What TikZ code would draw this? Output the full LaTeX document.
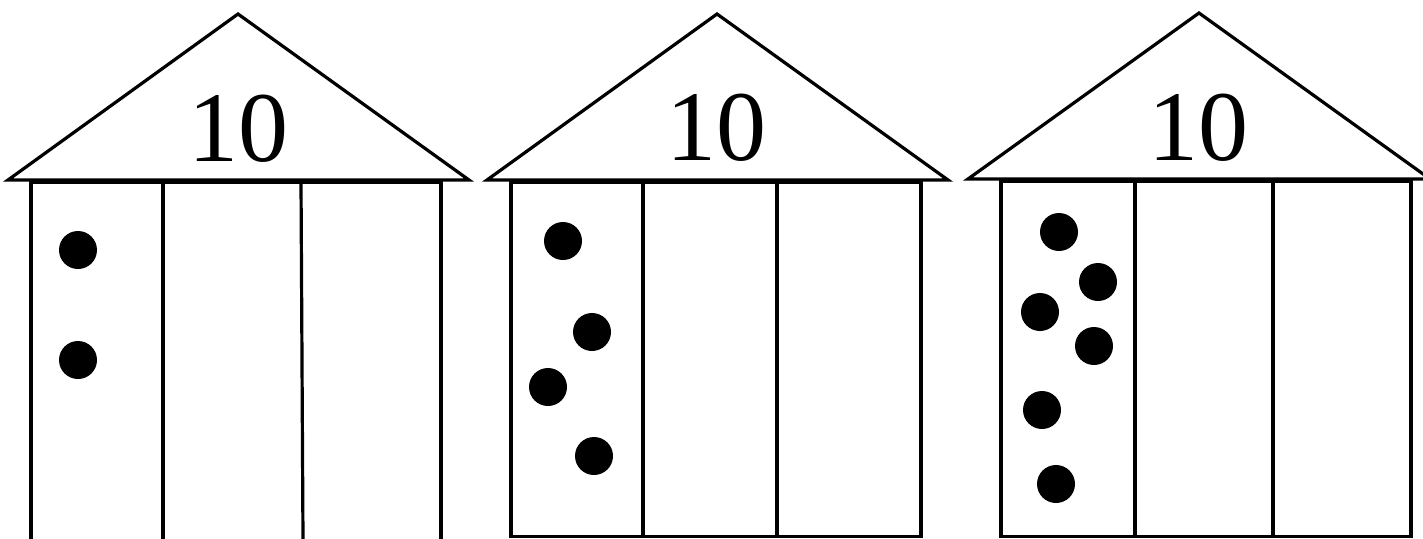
\documentclass[tikz,border=0pt]{standalone}
\usepackage{fontspec}
\setmainfont{Liberation Serif}
\begin{document}
\begin{tikzpicture}[x=1pt,y=-1pt,line width=3.2pt,
  dot/.style={circle,fill=black,draw=none,inner sep=0pt,minimum size=38pt},
  numlabel/.style={inner sep=0pt,anchor=base,font=\fontsize{100}{100}\selectfont}]
\useasboundingbox (0,0) rectangle (1423,538);
\clip (0,0) rectangle (1423,538);
% house 1
\draw (8,180) -- (238,14) -- (469,180) -- cycle;
\draw (31,540) -- (31,182) -- (441,182) -- (441,540);
\draw (163,182) -- (163,540);
\draw (301,182) -- (303,540);
\node[numlabel] (t1) at (238,161) {10};
\node[dot] (a1) at (78,250) {};
\node[dot] (a2) at (78,360) {};
% house 2
\draw (487,180) -- (717,14) -- (948,180) -- cycle;
\draw (511,182) rectangle (921,536.5);
\draw (643,182) -- (643,536.5);
\draw (777,182) -- (777,536.5);
\node[numlabel] (t2) at (716,160) {10};
\node[dot] (b1) at (563,241) {};
\node[dot] (b2) at (592,332) {};
\node[dot] (b3) at (548,387) {};
\node[dot] (b4) at (594,456) {};
% house 3
\draw (968,179) -- (1199,13) -- (1430,179) -- cycle;
\draw (1001,181) rectangle (1411,536.5);
\draw (1135,181) -- (1135,536.5);
\draw (1273,181) -- (1273,536.5);
\node[numlabel] (t3) at (1198,160) {10};
\node[dot] (c1) at (1059,232) {};
\node[dot] (c2) at (1098,282) {};
\node[dot] (c3) at (1040,312) {};
\node[dot] (c4) at (1094,346) {};
\node[dot] (c5) at (1042,410) {};
\node[dot] (c6) at (1056,484) {};
\end{tikzpicture}
\end{document}
